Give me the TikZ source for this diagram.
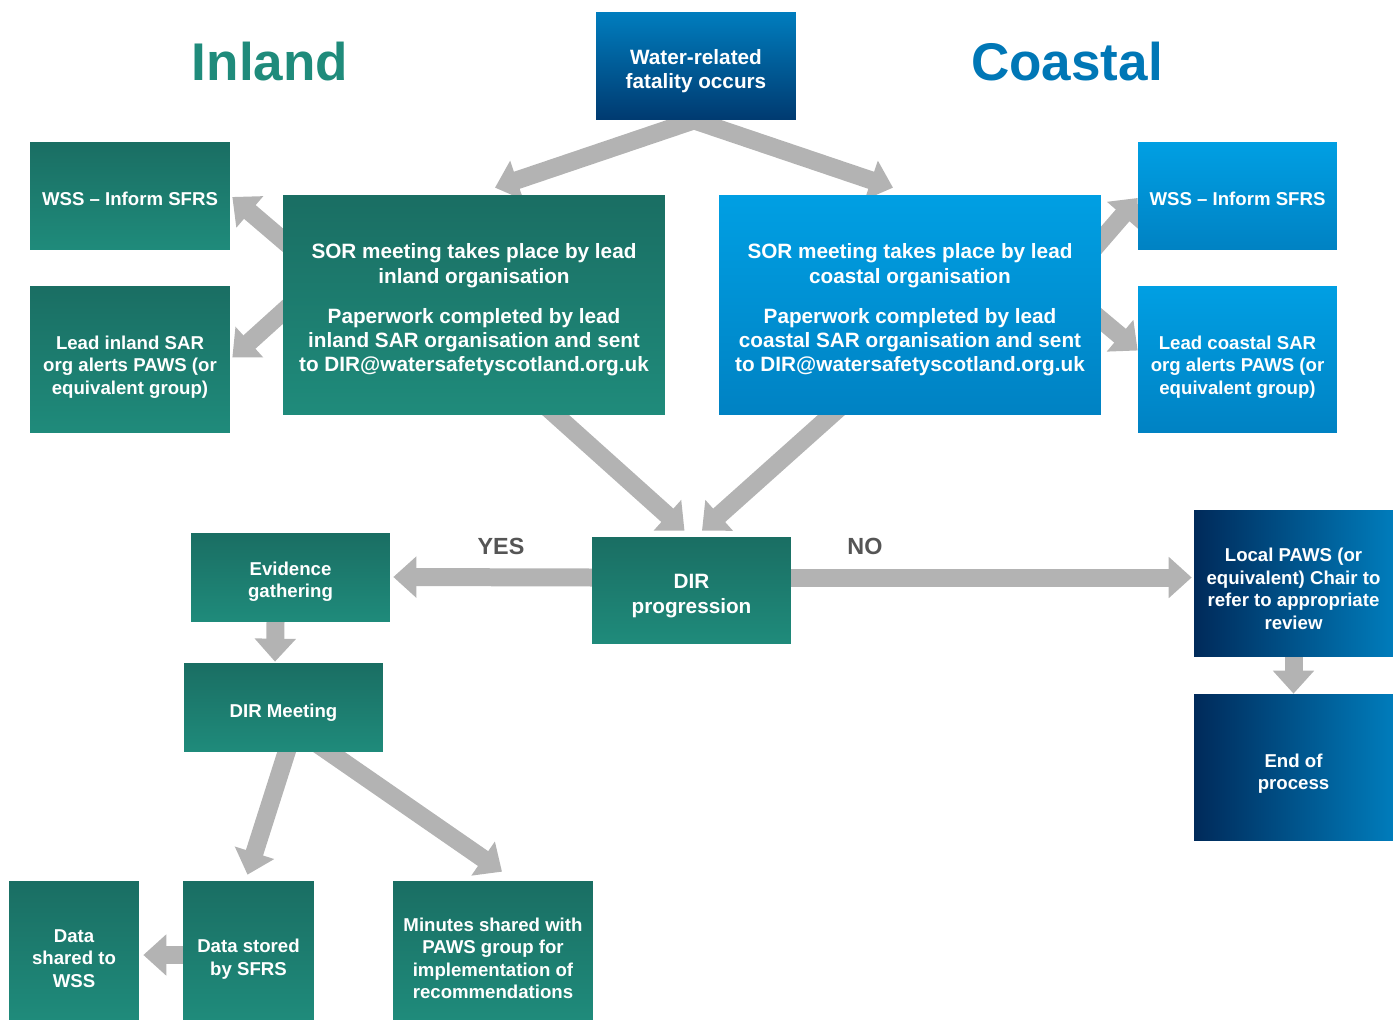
\documentclass[tikz,border=0pt]{standalone}
\usepackage{fontspec}
\setmainfont{Liberation Sans}
\usetikzlibrary{arrows.meta,calc,backgrounds}

\definecolor{tealtop}{HTML}{1A6E63}
\definecolor{tealbot}{HTML}{1F8B7B}
\definecolor{skytop}{HTML}{009FE3}
\definecolor{skybot}{HTML}{0082C3}
\definecolor{fataltop}{HTML}{007DBE}
\definecolor{fatalbot}{HTML}{003A70}
\definecolor{navyleft}{HTML}{002A5A}
\definecolor{navyright}{HTML}{007CBB}
\definecolor{flowgray}{HTML}{B3B3B3}
\definecolor{inlandtitle}{HTML}{1F8B7B}
\definecolor{coastaltitle}{HTML}{0077B6}
\definecolor{answergray}{HTML}{555555}

% invisible strut on the first line, pushes the text block down a little
\newcommand{\lift}[1][0.5cm]{\rule{0pt}{#1}}

\begin{document}
\begin{tikzpicture}[
    x=0.02cm, y=-0.02cm,
    box/.style={rectangle, inner sep=0pt, text=white, align=center, font=\bfseries\fontsize{10.6}{12.8}\selectfont},
    box-big/.style={box, font=\bfseries\fontsize{11.8}{13.9}\selectfont},
    box-teal/.style={top color=tealtop, bottom color=tealbot},
    box-sky/.style={top color=skytop, bottom color=skybot},
    box-fatal/.style={top color=fataltop, bottom color=fatalbot},
    box-navy/.style={left color=navyleft, right color=navyright},
    flow/.style={-{Triangle[length=0.46cm, width=0.8cm]}, line width=0.36cm, draw=flowgray, shorten <=-0.3cm},
    title/.style={font=\bfseries\fontsize{30.2}{34}\selectfont},
    answer/.style={font=\bfseries\fontsize{13.3}{16}\selectfont, text=answergray}
]
\useasboundingbox (0,0) rectangle (1397,1021);

% --- Titles ---
\node[title, text=inlandtitle] (inland) at (270,62) {Inland};
\node[title, text=coastaltitle] (coastal) at (1067,62) {Coastal};

% --- Top ---
\node[box-big, box-fatal, minimum width=4cm, minimum height=2.16cm] (fatal) at (696,66) {\lift Water-related\\fatality occurs};

% --- Inland side ---
\node[box-big, box-teal, minimum width=7.64cm, minimum height=4.4cm] (sorI) at (474,305)
    {\lift SOR meeting takes place by lead\\inland organisation\\[8.8pt]Paperwork completed by lead\\inland SAR organisation and sent\\to DIR@watersafetyscotland.org.uk};
\node[box, box-teal, minimum width=4cm, minimum height=2.16cm] (wssI) at (130,196) {\lift[0.4cm]WSS -- Inform SFRS};
\node[box, box-teal, minimum width=4cm, minimum height=2.94cm] (leadI) at (130,359.5) {\lift[0.56cm]Lead inland SAR\\org alerts PAWS (or\\equivalent group)};

% --- Coastal side ---
\node[box-big, box-sky, minimum width=7.64cm, minimum height=4.4cm] (sorC) at (910,305)
    {\lift SOR meeting takes place by lead\\coastal organisation\\[8.8pt]Paperwork completed by lead\\coastal SAR organisation and sent\\to DIR@watersafetyscotland.org.uk};
\node[box, box-sky, minimum width=3.98cm, minimum height=2.16cm] (wssC) at (1237.5,196) {\lift[0.4cm]WSS -- Inform SFRS};
\node[box, box-sky, minimum width=3.98cm, minimum height=2.94cm] (leadC) at (1237.5,359.5) {\lift[0.56cm]Lead coastal SAR\\org alerts PAWS (or\\equivalent group)};

% --- Progression ---
\node[box-big, box-teal, minimum width=3.98cm, minimum height=2.14cm] (dir) at (691.5,590.5) {\lift DIR\\progression};
\node[box, box-teal, minimum width=3.98cm, minimum height=1.78cm] (evid) at (290.5,577.5) {\lift[0.44cm]Evidence\\gathering};
\node[box, box-teal, minimum width=3.98cm, minimum height=1.78cm] (meet) at (283.5,707.5) {\lift[0.48cm]DIR Meeting};
\node[box, box-navy, minimum width=3.98cm, minimum height=2.94cm] (local) at (1293.5,583.5) {\lift[0.48cm]Local PAWS (or\\equivalent) Chair to\\refer to appropriate\\review};
\node[box, box-navy, minimum width=3.98cm, minimum height=2.94cm] (endp) at (1293.5,767.5) {\lift[0.52cm]End of\\process};

% --- Bottom row ---
\node[box, box-teal, minimum width=2.6cm, minimum height=2.78cm] (shared) at (74,950.5) {\lift[0.58cm]Data\\shared to\\WSS};
\node[box, box-teal, minimum width=2.62cm, minimum height=2.78cm] (stored) at (248.5,950.5) {\lift[0.62cm]Data stored\\by SFRS};
\node[box, box-teal, minimum width=4cm, minimum height=2.78cm] (minutes) at (493,950.5) {\lift[0.58cm]Minutes shared with\\PAWS group for\\implementation of\\recommendations};

% --- Answers ---
\node[answer] (yes) at (501,546) {YES};
\node[answer] (no) at (865,546) {NO};

% --- Arrows ---
\begin{scope}[on background layer]
\draw[flow] ($(fatal.south)+(-2,0)$) -- ($(sorI.north)+(21,-7)$);
\draw[flow] ($(fatal.south)+(-2,0)$) -- ($(sorC.north)+(-17,-7)$);
\draw[flow] ($(sorI.west)+(0,-65)$) -- ($(wssI.east)+(2,1)$);
\draw[flow] ($(sorI.west)+(0,7)$) -- ($(leadI.east)+(2,-2)$);
\draw[flow] ($(sorC.east)+(0,-65)$) -- ($(wssC.west)+(0,2)$);
\draw[flow] ($(sorC.east)+(0,15)$) -- ($(leadC.west)+(0,-9)$);
\draw[flow] ($(sorI.south)+(82,0)$) -- ($(dir.north)+(-7,-6)$);
\draw[flow] ($(sorC.south)+(-79,0)$) -- ($(dir.north)+(10.5,-6)$);
\draw[flow] ($(dir.west)+(0,-13)$) -- ($(evid.east)+(3,-0.5)$);
\draw[flow] ($(dir.east)+(0,-13)$) -- ($(local.west)+(-2,-6)$);
\draw[flow] (local.south) -- (endp.north);
\draw[flow] ($(evid.south)+(-15,0)$) -- ($(meet.north)+(-8.5,-1)$);
\draw[flow] ($(meet.south)+(3,0)$) -- ($(stored.north)+(-1,-6)$);
\draw[flow] ($(meet.south)+(46,0)$) -- ($(minutes.north)+(9,-9)$);
\draw[flow] ($(stored.west)+(0,4.5)$) -- ($(shared.east)+(4,4.5)$);
\end{scope}

\end{tikzpicture}
\end{document}
